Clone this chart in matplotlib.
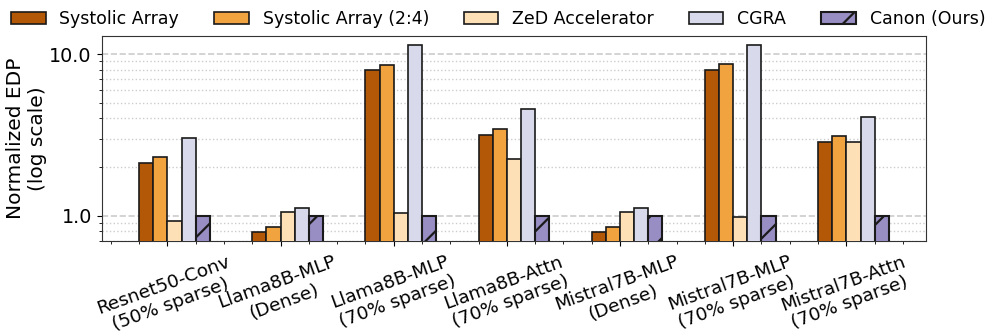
import matplotlib
matplotlib.use("Agg")
import matplotlib.pyplot as plt
import numpy as np
from matplotlib.ticker import FormatStrFormatter, NullFormatter, AutoMinorLocator, LogLocator

categories = ["Resnet50-Conv\n(50% sparse)", "Llama8B-MLP\n(Dense)", "Llama8B-MLP\n(70% sparse)",
              "Llama8B-Attn\n(70% sparse)", "Mistral7B-MLP\n(Dense)", "Mistral7B-MLP\n(70% sparse)",
              "Mistral7B-Attn\n(70% sparse)"]
series_names = ["Systolic Array", "Systolic Array (2:4)", "ZeD Accelerator", "CGRA", "Canon (Ours)"]
systolic = [2.13, 0.787, 7.93, 3.17, 0.787, 7.93, 2.84]
systolic_24 = [2.32, 0.85, 8.60, 3.44, 0.85, 8.62, 3.10]
zed = [0.93, 1.05, 1.04, 2.23, 1.05, 0.985, 2.84]
cgra = [3.04, 1.12, 11.4, 4.55, 1.12, 11.37, 4.08]
canon = [1.0, 1.0, 1.0, 1.0, 1.0, 1.0, 1.0]
colors = ["#b35806", "#f1a340", "#fee0b6", "#d8daeb", "#998ec3"]
hatches = [None, None, None, None, "/"]

plt.rcParams['hatch.linewidth'] = 1.6
fig = plt.figure(figsize=(9.96, 3.36), dpi=100)
ax = fig.add_axes([0.102, 0.2836, 0.828, 0.610])

x = np.arange(len(categories))
w = 0.125
all_series = [systolic, systolic_24, zed, cgra, canon]
for i, (vals, name, c, h) in enumerate(zip(all_series, series_names, colors, hatches)):
    ax.bar(x + (i - 2) * w, vals, width=w, align='edge', color=c, edgecolor='#1a1a1a',
           linewidth=1.5 if i == 4 else 1.2, hatch=h, label=name, zorder=3)

ax.set_yscale('log')
ax.set_ylim(0.70, 12.98)
ax.yaxis.set_major_locator(LogLocator(base=10))
ax.yaxis.set_minor_locator(LogLocator(base=10, subs=np.arange(2, 10)))
ax.yaxis.set_major_formatter(FormatStrFormatter('%.1f'))
ax.yaxis.set_minor_formatter(NullFormatter())
ax.set_xticks(x)
ax.set_xticklabels(categories, rotation=20, ha='center', fontsize=13.3)
ax.xaxis.set_minor_locator(AutoMinorLocator(4))
ax.tick_params(axis='x', which='major', pad=5)
ax.tick_params(axis='y', labelsize=13.8)
ax.set_ylabel("Normalized EDP\n(log scale)", fontsize=14.5, labelpad=2)
ax.grid(which='major', axis='y', linestyle='--', color='#cccccc', linewidth=1.2, zorder=0)
ax.grid(which='minor', axis='y', linestyle=':', color='#cccccc', linewidth=1.0, zorder=0)
ax.set_axisbelow(True)
for s in ax.spines.values():
    s.set_color('#333333')

fig.legend(loc='upper center', bbox_to_anchor=(0.5, 1.0), ncol=5, frameon=False,
           fontsize=12.5, borderpad=0.1, columnspacing=2.0)

fig.savefig("out.png", dpi=100)
